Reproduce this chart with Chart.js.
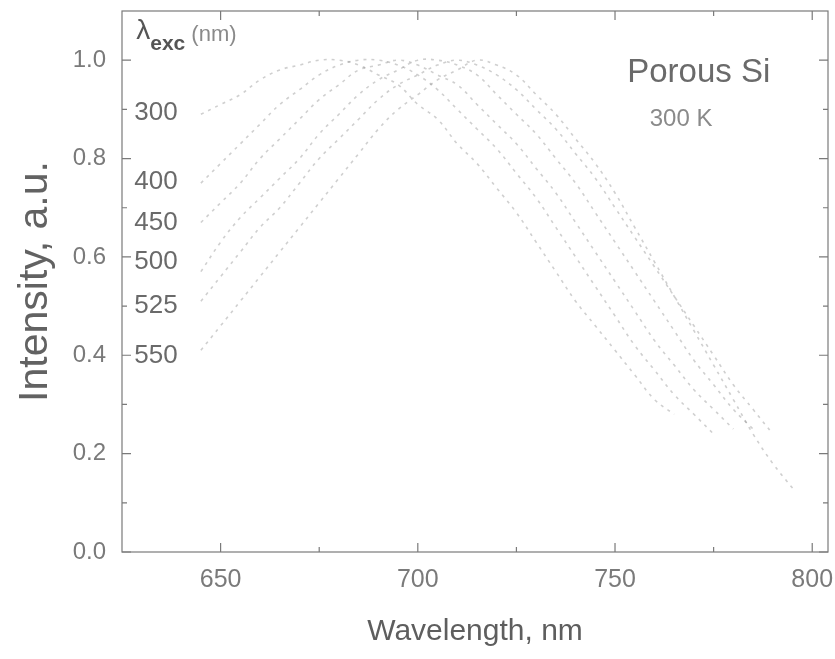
<!DOCTYPE html>
<html>
<head>
<meta charset="utf-8">
<script src="https://cdn.jsdelivr.net/npm/chart.js@4"></script>
<style>
  html, body { margin: 0; padding: 0; background: #fff; }
  #wrap { width: 835px; height: 659px; }
</style>
</head>
<body>
<div id="wrap"><canvas id="c" width="835" height="659"></canvas></div>
<script>
// ---- data ----
const wavelengths = [645,650,655,660,665,670,675,680,685,690,695,700,705,710,715,720,725,730,735,740,745,750,755,760,765,770,775,780,785,790,795];
const excLabels = ["300","400","450","500","525","550"];
const exc300 = [0.89,0.91,0.93,0.96,0.98,0.99,1.00,1.00,0.99,0.97,0.95,0.91,0.88,0.83,0.79,0.74,0.69,0.63,0.57,0.51,0.46,0.41,0.36,0.31,0.28,null,null,null,null,null,null];
const exc400 = [0.75,0.79,0.83,0.87,0.91,0.94,0.97,0.99,1.00,1.00,0.99,0.97,0.94,0.90,0.86,0.82,0.77,0.72,0.66,0.60,0.54,0.48,0.42,0.37,0.32,0.28,0.24,null,null,null,null];
const exc450 = [0.67,0.71,0.75,0.80,0.84,0.88,0.92,0.95,0.98,0.99,1.00,0.99,0.97,0.95,0.91,0.87,0.83,0.78,0.73,0.67,0.61,0.55,0.49,0.43,0.38,0.33,0.29,0.25,null,null,null];
const exc500 = [0.57,0.63,0.68,0.72,0.76,0.80,0.85,0.89,0.93,0.96,0.98,1.00,1.00,0.99,0.97,0.93,0.89,0.85,0.80,0.75,0.69,0.63,0.57,0.51,0.45,0.39,0.34,0.29,0.25,null,null];
const exc525 = [0.51,0.56,0.61,0.66,0.70,0.75,0.80,0.84,0.88,0.92,0.95,0.97,0.99,1.00,0.99,0.97,0.94,0.90,0.86,0.81,0.76,0.70,0.64,0.58,0.52,0.46,0.40,0.34,0.29,0.24,null];
const exc550 = [0.41,0.46,0.51,0.56,0.61,0.66,0.71,0.76,0.81,0.86,0.90,0.93,0.96,0.98,1.00,0.99,0.97,0.93,0.89,0.84,0.79,0.73,0.66,0.59,0.52,0.45,0.38,0.31,0.24,0.18,0.13];
const seriesValues = [exc300, exc400, exc450, exc500, exc525, exc550];
// label anchor intensities at the left of the plot
const excLabelY = [0.892, 0.752, 0.669, 0.59, 0.50, 0.398];
const xTickLabels = [650, 700, 750, 800];
const yTickLabels = [0.0, 0.2, 0.4, 0.6, 0.8, 1.0];

const TXT = '#7a7a7a';
const FONT = '"Liberation Sans", Arial, sans-serif';

function toPoints(arr) {
  const pts = [];
  arr.forEach((v, i) => { if (v !== null) pts.push({x: wavelengths[i], y: v}); });
  return pts;
}

const datasets = seriesValues.map((arr, k) => ({
  label: excLabels[k],
  data: toPoints(arr),
  borderColor: 'rgba(140,140,140,0.42)',
  borderWidth: 1.6,
  borderDash: [3, 5],
  pointRadius: 0,
  tension: 0.4,
  fill: false
}));

const decor = {
  id: 'decor',
  afterDraw(chart) {
    const ctx = chart.ctx;
    const a = chart.chartArea;
    const xs = chart.scales.x, ys = chart.scales.y;
    ctx.save();
    // frame
    ctx.strokeStyle = '#7a7a7a';
    ctx.lineWidth = 1.2;
    ctx.strokeRect(a.left, a.top, a.right - a.left, a.bottom - a.top);
    // inward ticks x (bottom & top)
    for (let v = 650; v <= 800; v += 25) {
      const px = xs.getPixelForValue(v);
      const len = (v % 50 === 0) ? 9 : 5;
      ctx.beginPath();
      ctx.moveTo(px, a.bottom); ctx.lineTo(px, a.bottom - len);
      ctx.moveTo(px, a.top); ctx.lineTo(px, a.top + len);
      ctx.stroke();
    }
    // inward ticks y (left & right)
    for (let i = 0; i <= 10; i++) {
      const v = i / 10;
      const py = ys.getPixelForValue(v);
      const len = (i % 2 === 0) ? 9 : 5;
      ctx.beginPath();
      ctx.moveTo(a.left, py); ctx.lineTo(a.left + len, py);
      ctx.moveTo(a.right, py); ctx.lineTo(a.right - len, py);
      ctx.stroke();
    }
    // lambda_exc (nm)
    ctx.textBaseline = 'alphabetic';
    ctx.textAlign = 'left';
    const lx = xs.getPixelForValue(628.6);
    const ly = ys.getPixelForValue(1.044);
    ctx.fillStyle = '#555';
    ctx.font = '28px ' + FONT;
    ctx.fillText('λ', lx, ly);
    const lw = ctx.measureText('λ').width;
    ctx.font = 'bold 21px ' + FONT;
    ctx.fillText('exc', lx + lw, ly + 11);
    const ew = ctx.measureText('exc').width;
    ctx.fillStyle = '#8a8a8a';
    ctx.font = '22px ' + FONT;
    ctx.fillText(' (nm)', lx + lw + ew, ly + 2);
    // excitation labels
    ctx.fillStyle = '#6a6a6a';
    ctx.font = '26px ' + FONT;
    ctx.textBaseline = 'middle';
    const ex = xs.getPixelForValue(628.1);
    excLabels.forEach((t, k) => {
      ctx.fillText(t, ex, ys.getPixelForValue(excLabelY[k]));
    });
    // Porous Si / 300 K
    ctx.font = '33px ' + FONT;
    ctx.fillStyle = '#6a6a6a';
    ctx.fillText('Porous Si', xs.getPixelForValue(753.1), ys.getPixelForValue(0.975));
    ctx.font = '24px ' + FONT;
    ctx.fillStyle = '#8a8a8a';
    ctx.fillText('300 K', xs.getPixelForValue(758.8), ys.getPixelForValue(0.88));
    ctx.restore();
  }
};

new Chart(document.getElementById('c'), {
  type: 'line',
  data: { datasets },
  options: {
    responsive: false,
    animation: false,
    events: [],
    layout: { padding: { top: 11, right: 7, left: 0, bottom: 0 } },
    plugins: { legend: { display: false }, tooltip: { enabled: false } },
    scales: {
      x: {
        type: 'linear',
        min: 625, max: 804,
        afterBuildTicks: (s) => { s.ticks = xTickLabels.map(v => ({value: v})); },
        ticks: { color: TXT, font: { family: FONT, size: 25 }, padding: 13, maxRotation: 0,
                 callback: (v) => String(v) },
        grid: { display: false, drawTicks: false },
        border: { display: false },
        title: { display: true, text: 'Wavelength, nm', color: '#5e5e5e',
                 font: { family: FONT, size: 30 }, padding: { top: 0, bottom: 9 } },
        afterFit: (s) => { s.height = 107; s.paddingLeft = 0; s.paddingRight = 0; }
      },
      y: {
        min: 0, max: 1.1,
        afterBuildTicks: (s) => { s.ticks = yTickLabels.map(v => ({value: v})); },
        ticks: { color: TXT, font: { family: FONT, size: 24 }, padding: 16,
                 callback: (v) => Number(v).toFixed(1) },
        grid: { display: false, drawTicks: false },
        border: { display: false },
        title: { display: true, text: 'Intensity, a.u.', color: '#626262',
                 font: { family: FONT, size: 41 }, padding: { top: 11, bottom: 0 } },
        afterFit: (s) => { s.width = 122; s.paddingTop = 0; s.paddingBottom = 0; }
      }
    }
  },
  plugins: [decor]
});
</script>
</body>
</html>
